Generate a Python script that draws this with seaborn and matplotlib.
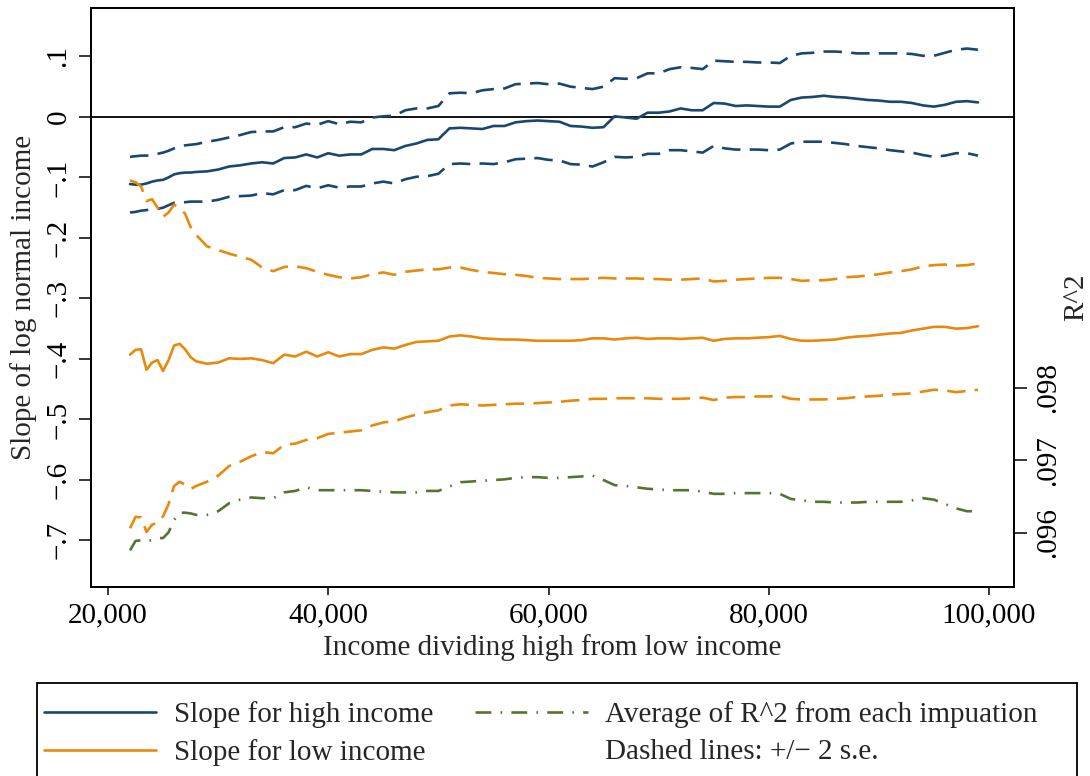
import matplotlib
matplotlib.use("Agg")
import matplotlib.pyplot as plt
import seaborn as sns
from matplotlib.lines import Line2D
from matplotlib.patches import Rectangle
from matplotlib.ticker import FuncFormatter, FixedLocator

# Income cut-off dividing "high" from "low" income
income = [22000, 22500, 23000, 23500, 24000, 24500, 25000, 25500, 26000,
          26500, 27000, 27500, 28000] + list(range(29000, 100000, 1000))

# Slope for high income, with +/- 2 s.e. bands
high_slope = [-0.111, -0.112, -0.112, -0.110, -0.107, -0.105, -0.104, -0.100, -0.095,
              -0.093, -0.092, -0.092, -0.091,
              -0.090, -0.087, -0.082, -0.080, -0.077, -0.075, -0.077, -0.068, -0.067, -0.062,
              -0.067, -0.060, -0.064, -0.062, -0.062, -0.053, -0.053, -0.055, -0.048, -0.044,
              -0.038, -0.037, -0.019, -0.018, -0.019, -0.020, -0.015, -0.015, -0.009, -0.007,
              -0.006, -0.007, -0.008, -0.015, -0.016, -0.018, -0.017, 0.001, -0.001, -0.003,
              0.007, 0.007, 0.009, 0.014, 0.011, 0.011, 0.023, 0.022, 0.018, 0.019,
              0.018, 0.017, 0.017, 0.028, 0.032, 0.033, 0.035, 0.033, 0.032, 0.030,
              0.028, 0.027, 0.025, 0.025, 0.023, 0.019, 0.017, 0.020, 0.025, 0.026, 0.024]
high_upper = [-0.066, -0.065, -0.064, -0.064, -0.063, -0.061, -0.059, -0.056, -0.052,
              -0.049, -0.047, -0.046, -0.045,
              -0.041, -0.038, -0.034, -0.030, -0.025, -0.024, -0.024, -0.017, -0.017, -0.011,
              -0.013, -0.007, -0.012, -0.008, -0.009, -0.001, 0.001, 0.002, 0.011, 0.014,
              0.014, 0.018, 0.039, 0.040, 0.039, 0.044, 0.046, 0.047, 0.054, 0.055,
              0.056, 0.054, 0.055, 0.050, 0.048, 0.046, 0.050, 0.064, 0.063, 0.064,
              0.072, 0.072, 0.079, 0.082, 0.081, 0.079, 0.093, 0.092, 0.091, 0.091,
              0.090, 0.090, 0.089, 0.101, 0.105, 0.106, 0.108, 0.108, 0.107, 0.105,
              0.105, 0.105, 0.105, 0.105, 0.104, 0.101, 0.101, 0.106, 0.111, 0.113, 0.111]
high_lower = [-0.158, -0.157, -0.155, -0.154, -0.153, -0.152, -0.150, -0.146, -0.142,
              -0.141, -0.141, -0.140, -0.140,
              -0.140, -0.137, -0.132, -0.131, -0.130, -0.126, -0.128, -0.121, -0.121, -0.114,
              -0.118, -0.113, -0.117, -0.115, -0.115, -0.110, -0.107, -0.110, -0.103, -0.099,
              -0.098, -0.094, -0.078, -0.077, -0.078, -0.077, -0.078, -0.075, -0.070, -0.069,
              -0.068, -0.071, -0.072, -0.078, -0.079, -0.082, -0.075, -0.066, -0.067, -0.066,
              -0.061, -0.061, -0.055, -0.055, -0.057, -0.059, -0.048, -0.052, -0.054, -0.054,
              -0.054, -0.055, -0.054, -0.044, -0.041, -0.041, -0.041, -0.043, -0.045, -0.048,
              -0.050, -0.052, -0.055, -0.057, -0.059, -0.063, -0.066, -0.064, -0.060, -0.060, -0.064]

# Slope for low income, with +/- 2 s.e. bands
low_slope = [-0.393, -0.385, -0.384, -0.418, -0.406, -0.402, -0.420, -0.402, -0.378,
             -0.375, -0.384, -0.397, -0.404,
             -0.408, -0.406, -0.399, -0.400, -0.399, -0.402, -0.407, -0.393, -0.396, -0.388,
             -0.396, -0.389, -0.396, -0.392, -0.392, -0.385, -0.381, -0.383, -0.377, -0.372,
             -0.371, -0.370, -0.363, -0.361, -0.363, -0.366, -0.367, -0.368, -0.368, -0.369,
             -0.370, -0.370, -0.370, -0.370, -0.369, -0.366, -0.366, -0.368, -0.366, -0.365,
             -0.367, -0.366, -0.366, -0.367, -0.366, -0.365, -0.370, -0.367, -0.366, -0.366,
             -0.365, -0.364, -0.362, -0.367, -0.370, -0.370, -0.369, -0.368, -0.365, -0.363,
             -0.362, -0.360, -0.358, -0.357, -0.353, -0.350, -0.347, -0.347, -0.350, -0.349, -0.346]
low_upper = [-0.105, -0.108, -0.115, -0.139, -0.136, -0.150, -0.165, -0.158, -0.145,
             -0.150, -0.160, -0.182, -0.195,
             -0.214, -0.220, -0.226, -0.231, -0.236, -0.249, -0.255, -0.248, -0.247, -0.250,
             -0.256, -0.261, -0.265, -0.267, -0.265, -0.260, -0.257, -0.261, -0.256, -0.254,
             -0.252, -0.252, -0.249, -0.249, -0.253, -0.256, -0.258, -0.260, -0.261, -0.263,
             -0.266, -0.267, -0.268, -0.268, -0.268, -0.267, -0.266, -0.267, -0.267, -0.267,
             -0.268, -0.268, -0.269, -0.269, -0.268, -0.267, -0.272, -0.271, -0.269, -0.268,
             -0.267, -0.266, -0.266, -0.268, -0.271, -0.270, -0.270, -0.268, -0.265, -0.264,
             -0.262, -0.260, -0.257, -0.255, -0.252, -0.247, -0.245, -0.244, -0.246, -0.245, -0.242]
low_lower = [-0.680, -0.661, -0.662, -0.686, -0.674, -0.671, -0.660, -0.640, -0.610,
             -0.603, -0.608, -0.615, -0.610,
             -0.603, -0.593, -0.577, -0.570, -0.561, -0.554, -0.556, -0.542, -0.540, -0.534,
             -0.531, -0.524, -0.522, -0.520, -0.518, -0.510, -0.505, -0.503, -0.497, -0.492,
             -0.488, -0.485, -0.477, -0.475, -0.476, -0.477, -0.476, -0.475, -0.474, -0.474,
             -0.473, -0.472, -0.471, -0.469, -0.468, -0.466, -0.466, -0.465, -0.465, -0.465,
             -0.465, -0.466, -0.466, -0.466, -0.465, -0.464, -0.468, -0.464, -0.463, -0.463,
             -0.462, -0.462, -0.461, -0.466, -0.467, -0.467, -0.467, -0.466, -0.465, -0.463,
             -0.462, -0.461, -0.459, -0.458, -0.457, -0.454, -0.451, -0.452, -0.455, -0.453, -0.451]

# Average R^2 across imputations (right axis)
r2_avg = [0.09576, 0.09589, 0.09590, 0.09589, 0.09590, 0.09593, 0.09593, 0.09601, 0.09618,
          0.09628, 0.09628, 0.09627, 0.09625,
          0.09625, 0.09630, 0.09641, 0.09646, 0.09649, 0.09648, 0.09648, 0.09656, 0.09658, 0.09663,
          0.09659, 0.09659, 0.09659, 0.09659, 0.09659, 0.09658, 0.09657, 0.09656, 0.09656, 0.09656,
          0.09658, 0.09658, 0.09664, 0.09670, 0.09671, 0.09672, 0.09673, 0.09674, 0.09676, 0.09677,
          0.09677, 0.09676, 0.09676, 0.09677, 0.09678, 0.09679, 0.09673, 0.09666, 0.09665, 0.09663,
          0.09661, 0.09660, 0.09659, 0.09659, 0.09659, 0.09657, 0.09654, 0.09654, 0.09655, 0.09655,
          0.09655, 0.09655, 0.09654, 0.09647, 0.09645, 0.09643, 0.09643, 0.09642, 0.09642, 0.09642,
          0.09643, 0.09643, 0.09643, 0.09643, 0.09645, 0.09648, 0.09646, 0.09640, 0.09634, 0.09630, 0.09630]

slope_ticks = [-0.7, -0.6, -0.5, -0.4, -0.3, -0.2, -0.1, 0.0, 0.1]
r2_ticks = [0.096, 0.097, 0.098]
income_ticks = [20000, 40000, 60000, 80000, 100000]

legend_labels = ["Slope for high income", "Slope for low income",
                 "Average of R^2 from each impuation", "Dashed lines: +/\u2212 2 s.e."]

sns.set_theme(style="white")
plt.rcParams["font.family"] = ["Liberation Serif", "DejaVu Serif"]
plt.rcParams["axes.unicode_minus"] = True

NAVY = "#1a476f"
ORANGE = "#e8890c"
GREEN = "#55752f"
FS = 21
LW = 1.9
DASH = (0, (7.0, 3.5))
DASHDOT = (0, (6.0, 3.5, 0.6, 3.5))

W, H = 1090, 776
fig = plt.figure(figsize=(W / 100, H / 100), dpi=100)
fig.patch.set_facecolor("white")
ax = fig.add_axes([91 / W, 1 - 587 / H, (1014 - 91) / W, (587 - 8) / H])
ax2 = ax.twinx()

ax.axhline(0, color="black", lw=1.3, zorder=1)

series = [
    (high_upper, NAVY, DASH), (high_slope, NAVY, "-"), (high_lower, NAVY, DASH),
    (low_upper, ORANGE, DASH), (low_slope, ORANGE, "-"), (low_lower, ORANGE, DASH),
]
for vals, col, ls in series:
    sns.lineplot(x=income, y=vals, ax=ax, color=col, lw=LW, linestyle=ls,
                 errorbar=None, zorder=3)
sns.lineplot(x=income, y=r2_avg, ax=ax2, color=GREEN, lw=LW, linestyle=DASHDOT,
             errorbar=None)

# Axes ranges
ax.set_xlim(18456, 102270)
ax.set_ylim(-0.777, 0.180)
ax2.set_ylim(0.095255, 0.103241)


def slope_fmt(v, _pos=None):
    if abs(v) < 1e-9:
        return "0"
    s = f"{abs(v):.1f}".lstrip("0")
    return ("\u2212" if v < 0 else "") + s


ax.xaxis.set_major_locator(FixedLocator(income_ticks))
ax.xaxis.set_major_formatter(FuncFormatter(lambda v, p: f"{v:,.0f}"))
ax.yaxis.set_major_locator(FixedLocator(slope_ticks))
ax.yaxis.set_major_formatter(FuncFormatter(slope_fmt))
ax2.yaxis.set_major_locator(FixedLocator(r2_ticks))
ax2.yaxis.set_major_formatter(FuncFormatter(lambda v, p: f"{v:.3f}".lstrip("0")))

ax.tick_params(axis="x", direction="out", length=6, width=1.1, pad=5,
               labelsize=FS, colors="black", bottom=True)
ax.tick_params(axis="y", direction="out", length=9, width=1.1, pad=5,
               labelsize=FS, labelrotation=90, colors="black", left=True)
ax2.tick_params(axis="y", direction="out", length=9, width=1.1, pad=6,
                labelsize=FS, labelrotation=90, colors="black", right=True)
for lab in ax.get_yticklabels():
    lab.set_va("center")
for lab in ax2.get_yticklabels():
    lab.set_va("center")

for a in (ax, ax2):
    for sp in a.spines.values():
        sp.set_color("black")
        sp.set_linewidth(1.3)

ax.set_xlabel("Income dividing high from low income", fontsize=FS, labelpad=4)
ax.set_ylabel("Slope of log normal income", fontsize=FS, labelpad=6)
ax2.set_ylabel("R^2", fontsize=FS, labelpad=2, rotation=90)

# Legend with its own frame beneath the plot
handles = [Line2D([], [], color=NAVY, lw=LW),
           Line2D([], [], color=ORANGE, lw=LW),
           Line2D([], [], color=GREEN, lw=LW, linestyle=DASHDOT),
           Line2D([], [], color="none", lw=LW)]
fig.legend(handles, legend_labels, ncol=2, loc="upper left",
           bbox_to_anchor=(44 / W, 1 - 701 / H), frameon=False, fontsize=FS,
           handlelength=3.85, handletextpad=0.6, columnspacing=1.45,
           borderpad=0, borderaxespad=0, labelspacing=0.38)
fig.add_artist(Rectangle((37 / W, -0.01), (1077 - 37) / W, 0.01 + (1 - 683 / H),
                         transform=fig.transFigure, fill=False, edgecolor="black", lw=1.3))

fig.savefig("out.png", dpi=100, facecolor="white")
